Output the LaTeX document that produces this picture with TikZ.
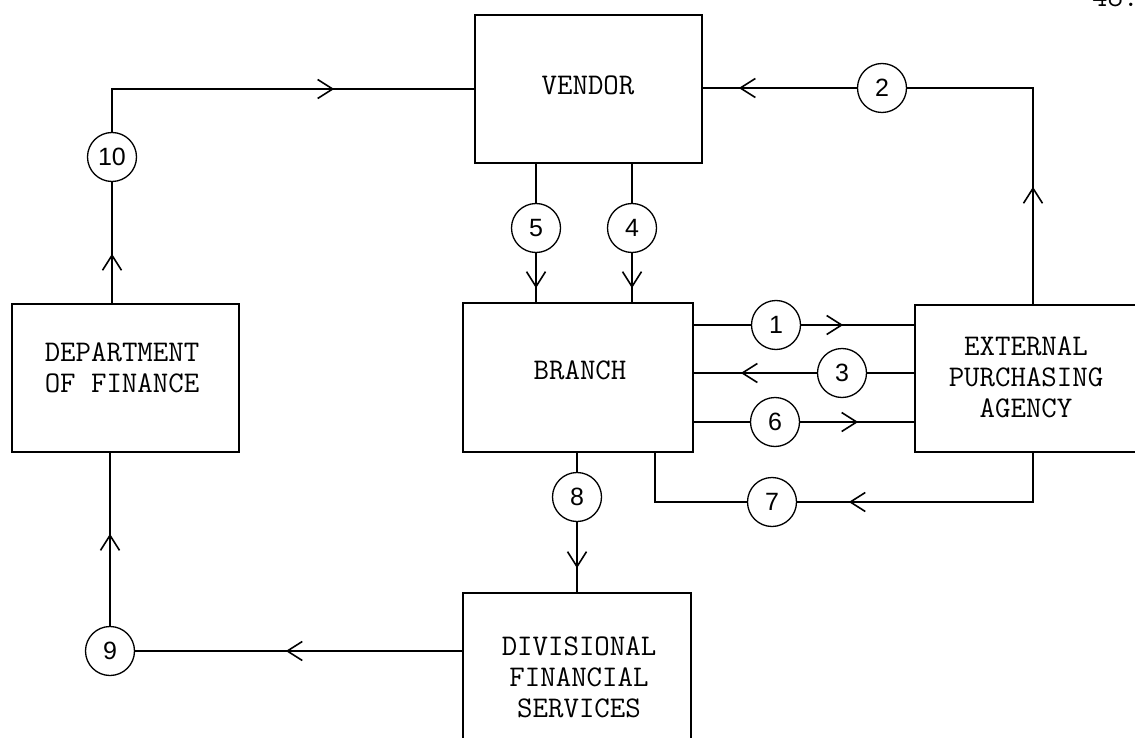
\documentclass[tikz,border=0pt]{standalone}
\usepackage{fontspec}
\newfontfamily\numfont{Liberation Sans}
\usetikzlibrary{arrows.meta,decorations.markings}
\tikzset{
  box/.style={draw, line width=2.4pt, inner sep=0pt},
  lbl/.style={font=\ttfamily\fontsize{30}{31}\selectfont, align=center, inner sep=0pt},
  num/.style={draw, circle, line width=1.3pt, minimum size=49pt, inner sep=0pt, font=\numfont\fontsize{25}{25}\selectfont},
  conn/.style={line width=1.6pt},
  arr/.style={postaction={decorate}, decoration={markings, mark=at position #1 with {\arrow{Straight Barb[length=15pt,width=19pt,line width=1.6pt]}}}},
}
\begin{document}
\begin{tikzpicture}[x=1pt,y=-1pt]
\useasboundingbox (0,0) rectangle (1135,738);
% boxes
\node[box, minimum width=227pt, minimum height=148pt] (vendor) at (588.5,89) {};
\node[box, minimum width=230pt, minimum height=149pt] (branch) at (578,377.5) {};
\node[box, minimum width=236pt, minimum height=147pt] (epa) at (1033,378.5) {};
\node[box, minimum width=227pt, minimum height=148pt] (dof) at (125.5,378) {};
\node[box, minimum width=228pt, minimum height=167pt] (dfs) at (577,676.5) {};
% box texts
\node[lbl] (tv) at (588,85) {VENDOR};
\node[lbl] (tb) at (580,370) {BRANCH};
\node[lbl] (te) at (1026,377) {EXTERNAL\\PURCHASING\\AGENCY};
\node[lbl] (td) at (122,367.5) {DEPARTMENT\\OF FINANCE};
\node[lbl] (ts) at (579,677) {DIVISIONAL\\FINANCIAL\\SERVICES};
\node[lbl, anchor=base west] (pg) at (1092,7) {48.};
% circles
\node[num] (c1) at (776,325) {1};
\node[num] (c2) at (882,88) {2};
\node[num] (c3) at (842,373) {3};
\node[num] (c4) at (632,228) {4};
\node[num] (c5) at (536,228) {5};
\node[num] (c6) at (775,422) {6};
\node[num] (c7) at (772,502) {7};
\node[num] (c8) at (577,497) {8};
\node[num] (c9) at (110,651) {9};
\node[num] (c10) at (112,157) {10};
\coordinate (b7) at (655,452);
% connectors
\draw[conn, arr=265pt] (c10) |- (vendor.west);
\draw[conn, arr=49pt] (c10 |- dof.north) -- (c10);
\draw[conn, arr=92pt] (c9) -- (c9 |- dof.south);
\draw[conn, arr=176pt] (dfs.west |- c9) -- (c9);
\draw[conn] (c8 |- branch.south) -- (c8);
\draw[conn, arr=46pt] (c8) -- (c8 |- dfs.north);
\draw[conn] (c5 |- vendor.south) -- (c5);
\draw[conn, arr=35pt] (c5) -- (c5 |- branch.north);
\draw[conn] (c4 |- vendor.south) -- (c4);
\draw[conn, arr=35pt] (c4) -- (c4 |- branch.north);
\draw[conn] (branch.east |- c1) -- (c1);
\draw[conn, arr=42pt] (c1) -- (c1 -| epa.west);
\draw[conn] (c3 -| epa.west) -- (c3);
\draw[conn, arr=76pt] (c3) -- (c3 -| branch.east);
\draw[conn] (branch.east |- c6) -- (c6);
\draw[conn, arr=58pt] (c6) -- (c6 -| epa.west);
\draw[conn, arr=233pt] (epa.south) |- (c7);
\draw[conn] (c7) -| (b7);
\draw[conn, arr=117pt] (epa.north) |- (c2);
\draw[conn, arr=118pt] (c2) -- (c2 -| vendor.east);
\end{tikzpicture}
\end{document}
